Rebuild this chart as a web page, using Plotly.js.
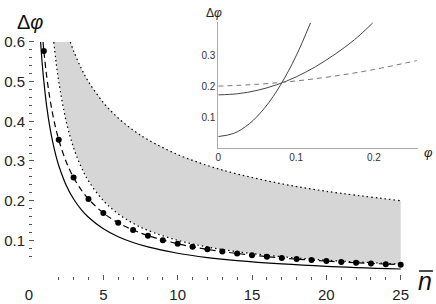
<!DOCTYPE html>
<html><head><meta charset="utf-8">
<script src="https://cdn.plot.ly/plotly-3.0.1.min.js"></script>
<style>html,body{margin:0;padding:0;background:#fff}</style>
</head><body><div id="chart" style="width:436px;height:304px"></div>
<script>
// main chart data
const nSolid = [0.780,0.9,1.0,1.2,1.4,1.6,1.8,2.0,2.5,3,3.5,4,5,6,7,8,10,12,14,17,20,25];
const vSolid = [0.600,0.5407,0.5,0.4352,0.3858,0.3467,0.3150,0.2887,0.2390,0.2041,0.1782,0.1581,0.1291,0.1091,0.0945,0.0833,0.0674,0.0566,0.0488,0.0404,0.0345,0.0277];
const nDashed = [0.944,1.0,1.2,1.4,1.6,1.8,2.0,2.5,3,3.5,4,5,6,7,8,10,12,14,17,20,25];
const vDashed = [0.600,0.5774,0.5103,0.4584,0.4167,0.3824,0.3536,0.2981,0.2582,0.2279,0.2041,0.1690,0.1443,0.1260,0.1118,0.0913,0.0772,0.0668,0.0556,0.0477,0.0385];
const nDots = [1,2,3,4,5,6,7,8,9,10,11,12,13,14,15,16,17,18,19,20,21,22,23,24,25];
const vDots = [0.5774,0.3536,0.2582,0.2041,0.1690,0.1443,0.1260,0.1118,0.1005,0.0913,0.0836,0.0772,0.0716,0.0668,0.0626,0.0589,0.0556,0.0527,0.0501,0.0477,0.0455,0.0435,0.0417,0.0400,0.0385];
const nLower = [1.667,1.8,2.0,2.5,3,3.5,4,5,6,7,8,10,12,14,17,20,25];
const vLower = [0.600,0.5556,0.5,0.4,0.3333,0.2857,0.25,0.2,0.1667,0.1429,0.125,0.1,0.0833,0.0714,0.0588,0.05,0.04];
const nUpper = [2.778,3,3.5,4,5,6,7,8,10,12,14,17,20,25];
const vUpper = [0.600,0.5774,0.5345,0.5,0.4472,0.4082,0.3780,0.3536,0.3162,0.2887,0.2673,0.2425,0.2236,0.2];
const xTickVals = [0,5,10,15,20,25];
const xTickText = ['0','5','10','15','20','25'];
const xMinorVals = [2,3,4,6,7,8,9,11,12,13,14,16,17,18,19,21,22,23,24];
const yTickVals = [0.1,0.2,0.3,0.4,0.5,0.6];
const yTickText = ['0.1','0.2','0.3','0.4','0.5','0.6'];
const yMinorVals = [0.06,0.08,0.12,0.14,0.16,0.18,0.22,0.24,0.26,0.28,0.32,0.34,0.36,0.38,0.42,0.44,0.46,0.48,0.52,0.54,0.56,0.58];

// inset data
const phiA = [0,0.02,0.04,0.06,0.08,0.1,0.1185];
const dA = [0.038,0.0484,0.0794,0.1312,0.2038,0.297,0.403];
const phiB = [0,0.025,0.05,0.075,0.1,0.125,0.15,0.175,0.1985];
const dB = [0.172,0.1756,0.1864,0.2044,0.2296,0.2625,0.3025,0.349,0.403];
const phiC = [0,0.05,0.1,0.15,0.2,0.255];
const dC = [0.2,0.2059,0.2167,0.2326,0.2534,0.2821];
const insetXVals = [0,0.1,0.2], insetXText = ['0','0.1','0.2'];
const insetYVals = [0.1,0.2,0.3], insetYText = ['0.1','0.2','0.3'];

// gray region polygon built from the two bounds
const polyX = nLower.concat([25], nUpper.slice().reverse(), [nLower[0]]);
const polyY = vLower.concat([vUpper[vUpper.length-1]], vUpper.slice().reverse(), [vLower[0]]);

const FONT = 'Liberation Sans, Arial, sans-serif';
const traces = [
  {x: polyX, y: polyY, type:'scatter', mode:'lines', fill:'toself', fillcolor:'#d6d6d6', line:{width:0}, hoverinfo:'skip'},
  {x: nLower, y: vLower, type:'scatter', mode:'lines', line:{color:'#000', width:1.2, dash:'1.5px,3px', shape:'spline'}},
  {x: nUpper, y: vUpper, type:'scatter', mode:'lines', line:{color:'#000', width:1.2, dash:'1.5px,3px', shape:'spline'}},
  {x: nSolid, y: vSolid, type:'scatter', mode:'lines', line:{color:'#000', width:1.2, shape:'spline'}},
  {x: nDashed, y: vDashed, type:'scatter', mode:'lines', line:{color:'#000', width:1.2, dash:'6px,4px', shape:'spline'}},
  {x: nDots, y: vDots, type:'scatter', mode:'markers', marker:{color:'#000', size:6}},
  {x: phiA, y: dA, xaxis:'x2', yaxis:'y2', type:'scatter', mode:'lines', line:{color:'#444', width:1, shape:'spline'}},
  {x: phiB, y: dB, xaxis:'x2', yaxis:'y2', type:'scatter', mode:'lines', line:{color:'#444', width:1, shape:'spline'}},
  {x: phiC, y: dC, xaxis:'x2', yaxis:'y2', type:'scatter', mode:'lines', line:{color:'#777', width:1, dash:'5px,4px', shape:'spline'}}
];

const layout = {
  width:436, height:304, showlegend:false,
  paper_bgcolor:'#fff', plot_bgcolor:'rgba(0,0,0,0)',
  margin:{l:29, r:0, t:0, b:24},
  font:{family:FONT, color:'#222'},
  xaxis:{range:[0,27.374], showline:false, zeroline:false, showgrid:false,
    tickmode:'array', tickvals:xTickVals, ticktext:xTickText,
    ticks:'inside', ticklen:5, tickcolor:'#555', tickwidth:1,
    tickfont:{size:15, family:FONT, color:'#222'}, ticklabelstandoff:4,
    minor:{tickmode:'array', tickvals:xMinorVals, ticks:'inside', ticklen:3, tickcolor:'#555', showgrid:false}},
  yaxis:{range:[0,0.7058], showline:false, zeroline:false, showgrid:false,
    tickmode:'array', tickvals:yTickVals, ticktext:yTickText,
    ticks:'inside', ticklen:5, tickcolor:'#555', tickwidth:1,
    tickfont:{size:15, family:FONT, color:'#222'}, ticklabelstandoff:3,
    minor:{tickmode:'array', tickvals:yMinorVals, ticks:'inside', ticklen:3, tickcolor:'#555', showgrid:false}},
  xaxis2:{domain:[0.4651,0.9565], anchor:'y2', range:[0,0.2571], showline:true, linecolor:'#aaa', linewidth:1,
    zeroline:false, showgrid:false, tickmode:'array', tickvals:insetXVals, ticktext:insetXText, ticks:'',
    tickfont:{size:10, family:FONT, color:'#333'}},
  yaxis2:{domain:[0.47,0.9225], anchor:'x2', range:[0,0.407], showline:true, linecolor:'#aaa', linewidth:1,
    zeroline:false, showgrid:false, tickmode:'array', tickvals:insetYVals, ticktext:insetYText, ticks:'',
    tickfont:{size:10, family:FONT, color:'#333'}},
  annotations:[
    {xref:'paper', yref:'paper', x:0.0017, y:0.9225, xanchor:'center', yanchor:'middle', showarrow:false,
     text:'Δ<i>φ</i>', font:{size:20, family:FONT, color:'#111'}},
    {xref:'paper', yref:'paper', x:0.974, y:-0.004, xanchor:'center', yanchor:'middle', showarrow:false,
     text:'<i>n</i>', font:{size:25, family:FONT, color:'#111'}},
    {xref:'paper', yref:'paper', x:0.4545, y:0.9536, xanchor:'center', yanchor:'middle', showarrow:false,
     text:'Δ<i>φ</i>', font:{size:12, family:FONT, color:'#222'}},
    {xref:'paper', yref:'paper', x:0.9828, y:0.4536, xanchor:'center', yanchor:'middle', showarrow:false,
     text:'<i>φ</i>', font:{size:13, family:FONT, color:'#222'}}
  ],
  shapes:[
    {type:'line', xref:'paper', yref:'paper', x0:0.9583, x1:0.9926, y0:0.0321, y1:0.0321, line:{color:'#111', width:1.5}}
  ]
};
Plotly.newPlot('chart', traces, layout, {staticPlot:true, displayModeBar:false});
</script></body></html>
